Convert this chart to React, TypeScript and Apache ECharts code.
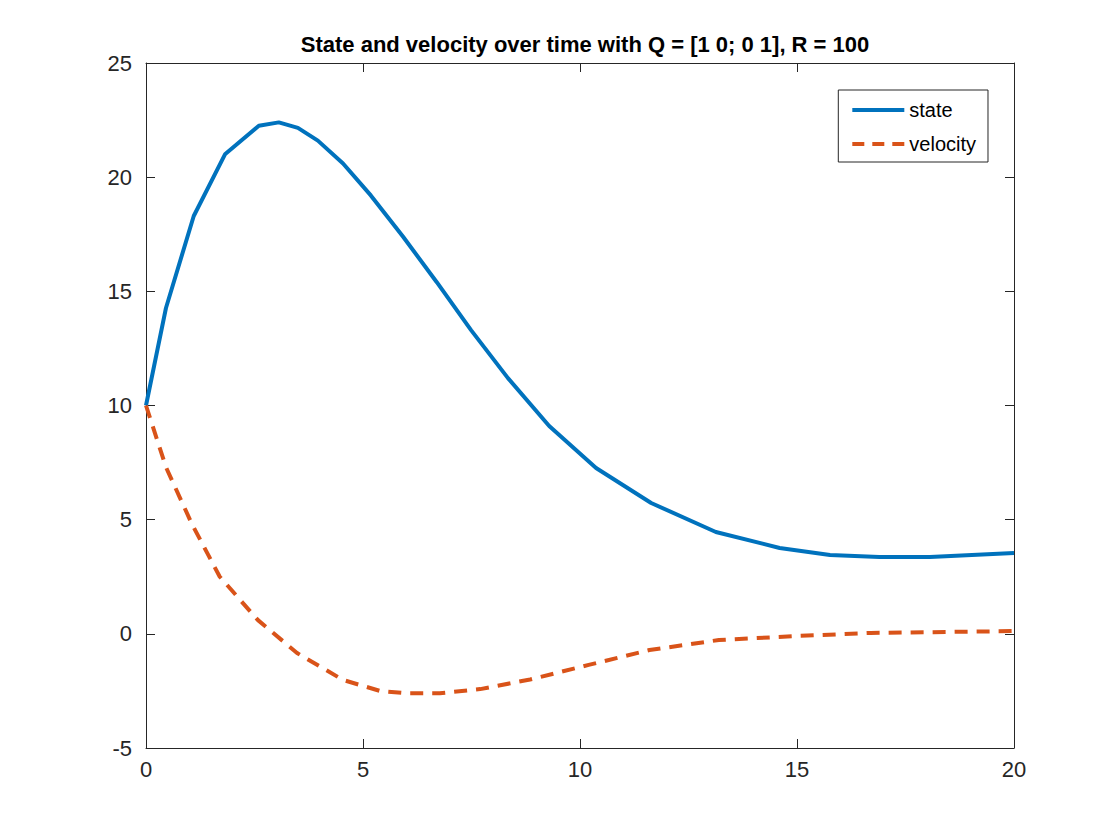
import React, { useRef, useEffect } from 'react'
import * as echarts from 'echarts'

const stateData: [number, number][] = [
  [0, 10], [0.46, 14.27], [1.1, 18.3], [1.82, 21.0], [2.6, 22.25], [3.06, 22.4], [3.5, 22.16],
  [3.96, 21.6], [4.54, 20.6], [5.18, 19.2], [5.92, 17.4], [6.7, 15.4], [7.49, 13.3], [8.34, 11.2],
  [9.29, 9.1], [10.37, 7.26], [11.64, 5.73], [13.13, 4.46], [14.6, 3.76], [15.76, 3.45],
  [16.9, 3.37], [18.06, 3.37], [20, 3.54]
]
const velocityData: [number, number][] = [
  [0, 10], [0.46, 7.3], [1.06, 4.8], [1.7, 2.5], [2.58, 0.6], [3.48, -0.84], [4.54, -2.02],
  [5.39, -2.5], [6.0, -2.6], [6.77, -2.6], [7.7, -2.42], [8.85, -2.0], [10.2, -1.36],
  [11.6, -0.71], [13.2, -0.27], [15.07, -0.09], [16.7, 0.04], [20, 0.12]
]

const font = '"Liberation Sans", Arial, sans-serif'
const axisCol = '#262626'
const dashIcon = 'path://M0,0h12v4h-12zM20,0h12v4h-12zM40,0h12v4h-12z'

const App: React.FC = () => {
  const ref = useRef<HTMLDivElement>(null)
  useEffect(() => {
    if (!ref.current) return
    const chart = echarts.init(ref.current, null, { renderer: 'svg' })
    const xBase = {
      type: 'value', min: 0, max: 20, interval: 5,
      axisLine: { show: true, onZero: false, lineStyle: { color: axisCol, width: 1 } },
      axisTick: { show: true, inside: true, length: 9, lineStyle: { color: axisCol } },
      splitLine: { show: false }
    }
    const yBase = {
      type: 'value', min: -5, max: 25, interval: 5,
      axisLine: { show: true, onZero: false, lineStyle: { color: axisCol, width: 1 } },
      axisTick: { show: true, inside: true, length: 9, lineStyle: { color: axisCol } },
      splitLine: { show: false }
    }
    chart.setOption({
      animation: false,
      backgroundColor: '#ffffff',
      title: {
        text: 'State and velocity over time with Q = [1 0; 0 1], R = 100',
        left: 580, top: 28, textAlign: 'center',
        textStyle: { fontFamily: font, fontSize: 22, fontWeight: 'bold', color: '#000' }
      },
      legend: {
        right: 132, top: 90, orient: 'vertical',
        itemWidth: 52, itemHeight: 4, itemGap: 14,
        padding: [10, 12, 8, 14],
        borderColor: axisCol, borderWidth: 1, backgroundColor: '#fff',
        textStyle: { fontFamily: font, fontSize: 20, color: '#000' },
        data: [
          { name: 'state', icon: 'rect' },
          { name: 'velocity', icon: dashIcon }
        ]
      },
      grid: { left: 146, right: 106, top: 63, bottom: 92 },
      xAxis: [
        { ...xBase, position: 'bottom', axisLabel: { fontFamily: font, fontSize: 22, color: axisCol, margin: 10 } },
        { ...xBase, position: 'top', axisLabel: { show: false } }
      ],
      yAxis: [
        { ...yBase, position: 'left', axisLabel: { fontFamily: font, fontSize: 22, color: axisCol, margin: 14 } },
        { ...yBase, position: 'right', axisLabel: { show: false } }
      ],
      series: [
        {
          name: 'state', type: 'line', data: stateData, symbol: 'none',
          itemStyle: { color: '#0072BD' },
          lineStyle: { color: '#0072BD', width: 4 }
        },
        {
          name: 'velocity', type: 'line', data: velocityData, symbol: 'none',
          itemStyle: { color: '#D95319' },
          lineStyle: { color: '#D95319', width: 4, type: [13, 9] }
        }
      ]
    })
    return () => chart.dispose()
  }, [])
  return <div ref={ref} style={{ position: 'fixed', left: 0, top: 0, width: 1120, height: 840 }} />
}

export default App
